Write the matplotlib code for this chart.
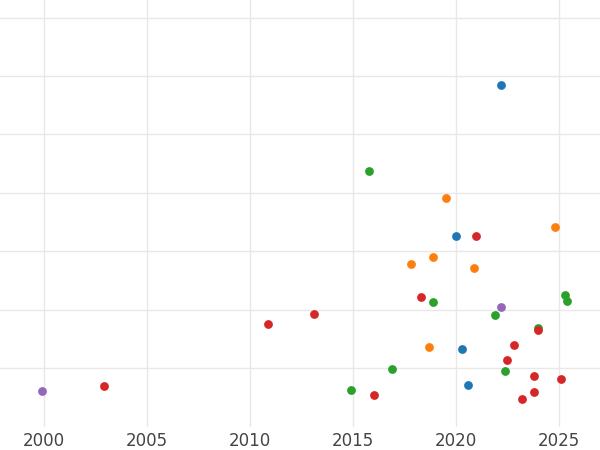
import matplotlib
matplotlib.use("Agg")
import matplotlib.pyplot as plt

blue_x = [2022.2, 2020.0, 2020.3, 2020.6]
blue_y = [5.85, 3.26, 1.32, 0.71]
orange_x = [2019.5, 2024.8, 2018.9, 2017.8, 2020.9, 2018.7]
orange_y = [3.92, 3.41, 2.91, 2.79, 2.71, 1.36]
green_x = [2015.8, 2025.3, 2025.4, 2018.9, 2021.9, 2024.0, 2016.9, 2022.4, 2014.9]
green_y = [4.37, 2.25, 2.15, 2.13, 1.91, 1.68, 0.98, 0.95, 0.62]
red_x = [2021.0, 2018.3, 2013.1, 2010.9, 2024.0, 2022.8, 2022.5, 2023.8, 2025.1, 2023.8, 2002.9, 2016.0, 2023.2]
red_y = [3.26, 2.21, 1.92, 1.75, 1.65, 1.39, 1.14, 0.86, 0.81, 0.59, 0.69, 0.54, 0.47]
purple_x = [1999.9, 2022.2]
purple_y = [0.61, 2.04]

fig = plt.figure(figsize=(6, 4.5), dpi=100)
ax = fig.add_axes([0, 0.052, 1, 0.948])
series = [(blue_x, blue_y, "#1f77b4"), (orange_x, orange_y, "#ff7f0e"),
          (green_x, green_y, "#2ca02c"), (red_x, red_y, "#d62728"),
          (purple_x, purple_y, "#9467bd")]
for xs, ys, c in series:
    ax.scatter(xs, ys, s=40, color=c, zorder=3, linewidths=0)
ax.set_xlim(1997.86, 2027.0)
ax.set_ylim(0, 7.3)
ax.set_xticks([2000, 2005, 2010, 2015, 2020, 2025])
ax.set_yticks([1, 2, 3, 4, 5, 6, 7])
ax.set_yticklabels([])
ax.tick_params(axis="y", length=0)
ax.tick_params(axis="x", length=0, labelsize=12, labelcolor="#444444", pad=4)
ax.grid(True, color="#e8e8e8", linewidth=1)
ax.set_axisbelow(True)
for s in ax.spines.values():
    s.set_visible(False)
fig.savefig("out.png")
